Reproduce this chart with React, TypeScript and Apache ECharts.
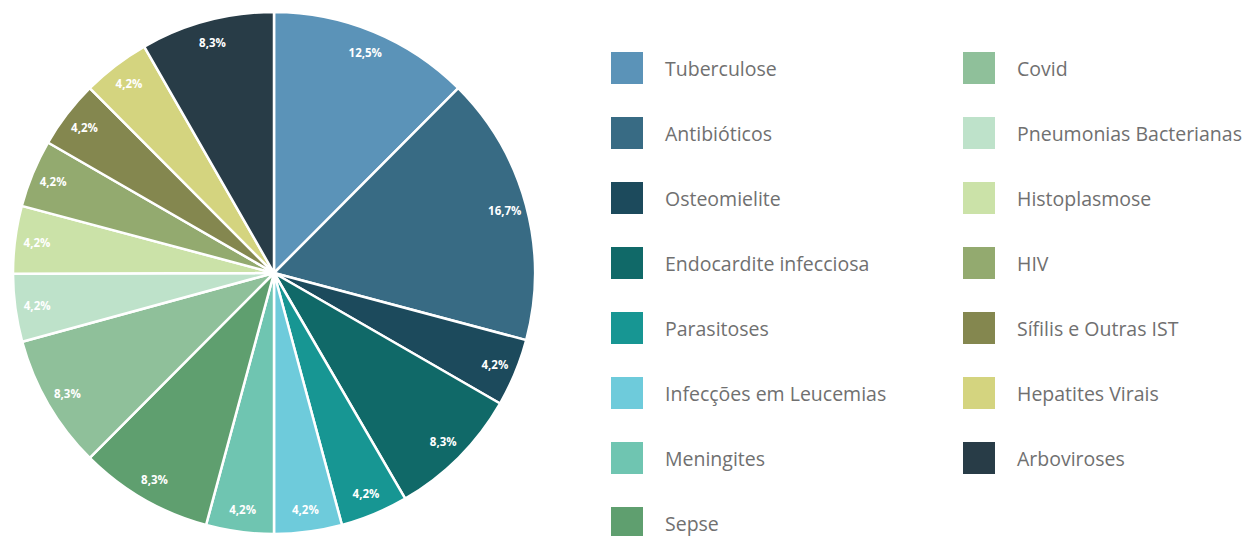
import React, { useEffect, useRef } from "react";
import * as echarts from "echarts";

const categories = [
  "Tuberculose",
  "Antibióticos",
  "Osteomielite",
  "Endocardite infecciosa",
  "Parasitoses",
  "Infecções em Leucemias",
  "Meningites",
  "Sepse",
  "Covid",
  "Pneumonias Bacterianas",
  "Histoplasmose",
  "HIV",
  "Sífilis e Outras IST",
  "Hepatites Virais",
  "Arboviroses",
];
const values = [12.5, 16.7, 4.2, 8.3, 4.2, 4.2, 4.2, 8.3, 8.3, 4.2, 4.2, 4.2, 4.2, 4.2, 8.3];
const colors = [
  "#5b93b8",
  "#386b84",
  "#1c4a5c",
  "#106968",
  "#179693",
  "#6ecbdb",
  "#6fc5b1",
  "#5f9f6f",
  "#8fc09a",
  "#bee2ca",
  "#cbe2a8",
  "#93aa6f",
  "#84874f",
  "#d4d47f",
  "#283c47",
];

const FONT = "'Open Sans', sans-serif";

export default function App() {
  const ref = useRef<HTMLDivElement>(null);
  useEffect(() => {
    document.body.style.margin = "0";
    const chart = echarts.init(ref.current!, undefined, { renderer: "svg" });
    const data = categories.map((name, i) => ({
      name,
      value: values[i],
      itemStyle: { color: colors[i] },
    }));
    const labelData = categories.map((name, i) => ({ name, value: values[i] }));
    const legendCommon = {
      orient: "vertical" as const,
      itemWidth: 34,
      itemHeight: 34,
      itemGap: 29,
      height: 800,
      icon: "rect",
      selectedMode: false,
      textStyle: {
        fontSize: 19.5,
        color: "#707070",
        fontFamily: FONT,
        padding: [6, 0, 0, 16],
      },
    };
    chart.setOption({
      animation: false,
      backgroundColor: "#ffffff",
      legend: [
        { ...legendCommon, left: 604, top: 45, data: categories.slice(0, 8) },
        { ...legendCommon, left: 956, top: 45, data: categories.slice(8) },
      ],
      series: [
        {
          type: "pie",
          center: [274, 273],
          radius: [0, 261],
          startAngle: 90,
          clockwise: true,
          data,
          label: { show: false },
          labelLine: { show: false },
          itemStyle: { borderColor: "#ffffff", borderWidth: 2.5 },
          emphasis: { disabled: true },
        },
        {
          type: "pie",
          center: [274, 273],
          radius: [206, 266],
          startAngle: 90,
          clockwise: true,
          silent: true,
          data: labelData,
          itemStyle: { color: "rgba(0,0,0,0)" },
          label: {
            show: true,
            position: "inside",
            color: "#ffffff",
            fontSize: 11.5,
            fontWeight: "bold",
            fontFamily: FONT,
            formatter: (p: any) => String(p.value.toFixed(1)).replace(".", ",") + "%",
          },
          labelLine: { show: false },
          emphasis: { disabled: true },
        },
      ],
    });
    return () => chart.dispose();
  }, []);
  return <div ref={ref} style={{ width: 1246, height: 536 }} />;
}
